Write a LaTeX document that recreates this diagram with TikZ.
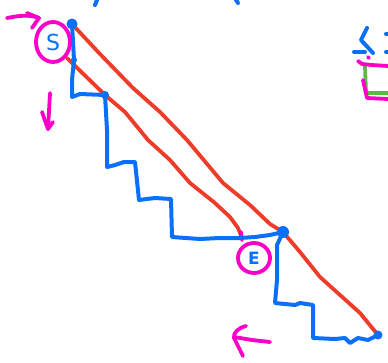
\documentclass[tikz,border=0pt]{standalone}
\usepackage{fontspec}
\setmainfont{DejaVu Sans}
\definecolor{penblue}{RGB}{10,112,250}
\definecolor{penred}{RGB}{238,60,40}
\definecolor{penmag}{RGB}{250,0,200}
\definecolor{pengreen}{RGB}{95,185,70}
\begin{document}
\begin{tikzpicture}[x=1pt,y=-1pt,
  blueline/.style={draw=penblue,line width=4pt,line cap=round,line join=round},
  redline/.style={draw=penred,line width=3.8pt,line cap=round,line join=round},
  magline/.style={draw=penmag,line width=3.8pt,line cap=round,line join=round},
  greenline/.style={draw=pengreen,line width=3.8pt,line cap=round,line join=round},
  dot/.style={circle,fill=penblue,inner sep=0pt,minimum size=#1},
  letter/.style={text=penblue,font=\fontsize{22}{22}\selectfont}]
\useasboundingbox (0,0) rectangle (388,362);
% key points
\coordinate (S) at (72,24);
\coordinate (M1) at (74,60);
\coordinate (A) at (105,95);
\coordinate (E) at (283,232);
\coordinate (F) at (378,335);
\coordinate (Lstart) at (67,58);
\coordinate (Lend) at (242,238);
% red lines
\draw[redline] (S) -- (100,54) -- (133,88) -- (160,112) -- (187,140) -- (223,183) -- (250,205) -- (270,224) -- (E)
  -- (300,252) -- (320,277) -- (340,295) -- (360,313) -- (F);
\draw[redline] (Lstart) -- (A) -- (125,112) -- (148,140) -- (170,160) -- (190,183) -- (215,203) -- (230,217) -- (238,228) -- (Lend);
\draw[magline] (241,232) -- (242,240);
% blue staircase
\draw[blueline] (S) -- (M1) -- (72,80) -- (72,97) -- (80,94) -- (A)
  -- (107,130) -- (107,167) -- (115,165) -- (124,162) -- (135,162)
  -- (139,200) -- (155,198) -- (171,199) -- (172,237) -- (200,239) -- (220,238) -- (240,238) -- (255,237) -- (270,235) -- (E);
\draw[blueline] (E) -- (277,245) -- (277,280) -- (275,303) -- (295,305) -- (300,303) -- (313,305) -- (313,338)
  -- (335,339) -- (345,338) -- (350,343) -- (358,338) -- (368,340) -- (F);
\node[dot=11pt] (dS) at (S) {};
\node[dot=6pt] (dM) at (M1) {};
\node[dot=8pt] (dA) at (A) {};
\node[dot=12pt] (dE) at (E) {};
\node[dot=9pt] (dF) at (F) {};
% S label
\node[letter] (lS) at (53,42) {S};
\draw[magline] (lS) ellipse [x radius=17, y radius=20];
\node[letter,font=\fontsize{17}{17}\selectfont\bfseries] (lE) at (254,258) {E};
\draw[magline] (lE) ellipse [x radius=16, y radius=15];
% arrows (magenta, hand drawn)
\draw[magline] (7,18) .. controls (18,16) and (28,14) .. (39,18);
\draw[magline] (27,13) -- (39,18) -- (32,28);
\draw[magline] (50,93) -- (48,129);
\draw[magline] (42,112) -- (48,129) -- (53,122);
\draw[magline] (270,342) -- (252,340) -- (234,337);
\draw[magline] (246,326) .. controls (238,328) and (233,333) .. (234,338) -- (243,356);
% top ticks
\draw[blueline] (97,0) -- (95,5);
\draw[blueline] (236,0) -- (238,3);
% right edge fragment
\draw[blueline] (367,28) -- (361,40) -- (373,53);
\draw[blueline] (354,52) -- (365,52);
\draw[blueline] (386,34) -- (388,34);
\draw[blueline] (386,52) -- (388,52);
\draw[greenline] (365,66) -- (366,93) -- (388,93);
\draw[magline] (358,61) -- (362,64) -- (372,65) -- (388,66);
\draw[magline] (368,57) -- (369,58);
\draw[magline] (363,80) -- (367,98) -- (388,99);
\end{tikzpicture}
\end{document}
